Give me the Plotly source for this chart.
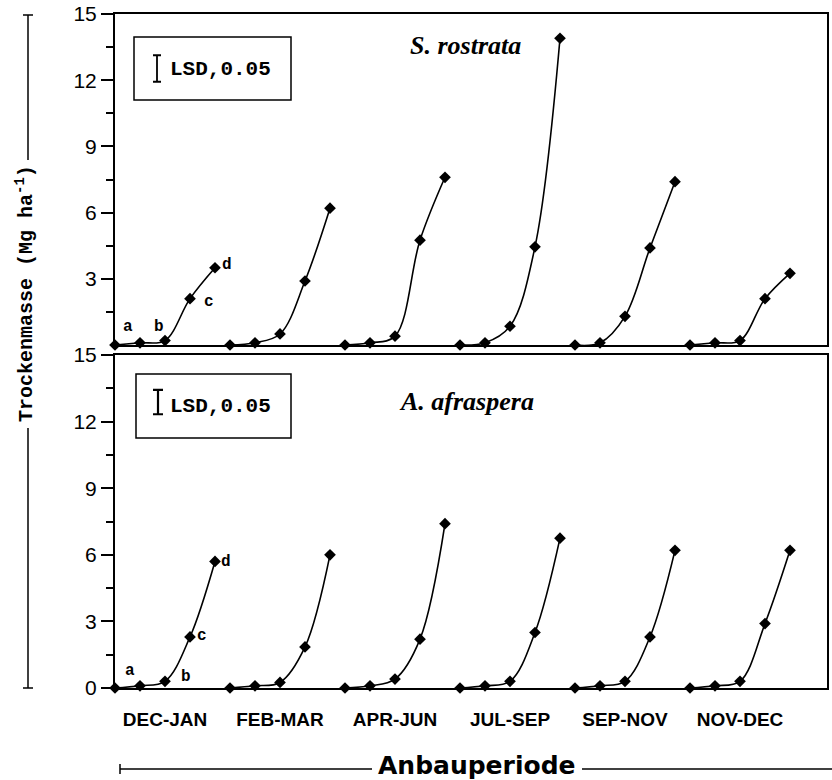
import plotly.graph_objects as go

# ---------------- data ----------------
periods = ["DEC-JAN", "FEB-MAR", "APR-JUN", "JUL-SEP", "SEP-NOV", "NOV-DEC"]
stages = [0, 1, 2, 3, 4]          # sowing, a, b, c, d (harvest stage index)
stage_letters = ["a", "b", "c", "d"]
period_gap = 4.6                  # spacing between cropping periods (stage units)

# Dry matter (Mg ha-1), S. rostrata
rostrata_dec_jan = [0, 0.1, 0.2, 2.1, 3.5]
rostrata_feb_mar = [0, 0.1, 0.5, 2.9, 6.2]
rostrata_apr_jun = [0, 0.1, 0.4, 4.75, 7.6]
rostrata_jul_sep = [0, 0.1, 0.85, 4.45, 13.9]
rostrata_sep_nov = [0, 0.1, 1.3, 4.4, 7.4]
rostrata_nov_dec = [0, 0.1, 0.2, 2.1, 3.25]

# Dry matter (Mg ha-1), A. afraspera
afraspera_dec_jan = [0, 0.1, 0.3, 2.3, 5.7]
afraspera_feb_mar = [0, 0.1, 0.25, 1.85, 6.0]
afraspera_apr_jun = [0, 0.1, 0.4, 2.2, 7.4]
afraspera_jul_sep = [0, 0.1, 0.3, 2.5, 6.75]
afraspera_sep_nov = [0, 0.1, 0.3, 2.3, 6.2]
afraspera_nov_dec = [0, 0.1, 0.3, 2.9, 6.2]

lsd_rostrata = 1.2
lsd_afraspera = 1.1

y_ticks_top = [3, 6, 9, 12, 15]
y_ticks_bottom = [0, 3, 6, 9, 12, 15]
y_minor = [1.5, 4.5, 7.5, 10.5, 13.5]

rostrata = [rostrata_dec_jan, rostrata_feb_mar, rostrata_apr_jun,
            rostrata_jul_sep, rostrata_sep_nov, rostrata_nov_dec]
afraspera = [afraspera_dec_jan, afraspera_feb_mar, afraspera_apr_jun,
             afraspera_jul_sep, afraspera_sep_nov, afraspera_nov_dec]

# ---------------- layout geometry ----------------
W, H = 832, 780
ML, MR, MT, MB = 115, 5, 14, 92
X_MAX = 28.48

REF_L, REF_R, REF_T, REF_B = 115, 827, 14, 688   # plot area in reference pixels


def px(xr):
    return (xr - REF_L) / (REF_R - REF_L)


def py(yr):
    return (REF_B - yr) / (REF_B - REF_T)


TOP_DOM = [py(345), 1.0]
BOT_DOM = [0.0, py(355)]

MONO = "Liberation Mono"
SANS = "Liberation Sans"

fig = go.Figure()

for axes, data in ((("x", "y"), rostrata), (("x2", "y2"), afraspera)):
    for g, vals in enumerate(data):
        xs = [g * period_gap + s for s in stages]
        fig.add_trace(go.Scatter(
            x=xs, y=vals, xaxis=axes[0], yaxis=axes[1],
            mode="lines+markers",
            line=dict(color="black", width=1.6, shape="spline", smoothing=1.0),
            marker=dict(symbol="diamond", size=9, color="black"),
            cliponaxis=False, showlegend=False, hoverinfo="skip"))

# LSD bars
fig.add_trace(go.Scatter(
    x=[1.68], y=[12.53], xaxis="x", yaxis="y", mode="markers",
    marker=dict(color="rgba(0,0,0,0)", size=2),
    error_y=dict(type="data", array=[lsd_rostrata / 2], color="black",
                 thickness=1.8, width=4),
    showlegend=False, hoverinfo="skip"))
fig.add_trace(go.Scatter(
    x=[1.72], y=[12.88], xaxis="x2", yaxis="y2", mode="markers",
    marker=dict(color="rgba(0,0,0,0)", size=2),
    error_y=dict(type="data", array=[lsd_afraspera / 2], color="black",
                 thickness=2.2, width=5),
    showlegend=False, hoverinfo="skip"))

centers = [g * period_gap + (stages[0] + stages[-1]) / 2 for g in range(len(periods))]

axis_common = dict(showline=True, linewidth=2, linecolor="black", mirror=True,
                   showgrid=False, zeroline=False, automargin=False,
                   ticklabeloverflow="allow")

fig.update_layout(
    width=W, height=H,
    margin=dict(l=ML, r=MR, t=MT, b=MB, autoexpand=False),
    paper_bgcolor="white", plot_bgcolor="white",
    showlegend=False,
    xaxis=dict(domain=[0, 1], anchor="y", range=[0, X_MAX],
               showticklabels=False, ticks="", **axis_common),
    xaxis2=dict(domain=[0, 1], anchor="y2", range=[0, X_MAX], matches="x",
                tickmode="array", tickvals=centers, ticktext=periods,
                ticks="outside", ticklen=13, tickcolor="rgba(0,0,0,0)",
                tickfont=dict(family=SANS, size=19, color="black", weight="bold"),
                **axis_common),
    yaxis=dict(domain=TOP_DOM, anchor="x", range=[0, 15],
               tickmode="array", tickvals=y_ticks_top,
               ticks="outside", ticklen=12, tickwidth=2, tickcolor="black",
               minor=dict(tickmode="array", tickvals=y_minor, ticks="outside",
                          ticklen=7, tickwidth=2, tickcolor="black"),
               tickfont=dict(family=SANS, size=21, color="black"),
               **axis_common),
    yaxis2=dict(domain=BOT_DOM, anchor="x2", range=[0, 15],
                tickmode="array", tickvals=y_ticks_bottom,
                ticks="outside", ticklen=12, tickwidth=2, tickcolor="black",
                minor=dict(tickmode="array", tickvals=y_minor, ticks="outside",
                           ticklen=7, tickwidth=2, tickcolor="black"),
                tickfont=dict(family=SANS, size=21, color="black"),
                **axis_common),
)

shapes = []
annotations = []


def ann(text, x, y, size, family, weight="normal", xref="paper", yref="paper",
        xanchor="center", angle=0):
    annotations.append(dict(text=text, xref=xref, yref=yref, x=x, y=y,
                            xanchor=xanchor, yanchor="middle", textangle=angle,
                            showarrow=False,
                            font=dict(family=family, size=size, color="black", weight=weight)))


def line(x0, y0, x1, y1, w=1.5):
    shapes.append(dict(type="line", xref="paper", yref="paper",
                       x0=px(x0), x1=px(x1), y0=py(y0), y1=py(y1),
                       line=dict(color="black", width=w)))


# LSD boxes and labels
for (x0, x1, y0, y1, ty) in ((134, 291, 37, 100, 69), (136, 291, 374, 438, 406)):
    shapes.append(dict(type="rect", xref="paper", yref="paper",
                       x0=px(x0), x1=px(x1), y0=py(y1), y1=py(y0),
                       line=dict(color="black", width=1.5)))
    ann("LSD,0.05", px(168), py(ty), 21, MONO, "bold", xanchor="left")

# species labels
ann("<b><i>S. rostrata</i></b>", px(465), py(46), 26, "Liberation Serif")
ann("<b><i>A. afraspera</i></b>", px(466), py(401), 26, "Liberation Serif")

# stage letters (first period)
letter_pos_top = [(0.52, 0.82), (1.76, 0.82), (3.76, 1.95), (4.48, 3.62)]
letter_pos_bot = [(0.6, 0.77), (2.84, 0.5), (3.48, 2.34), (4.44, 5.68)]
for (lx, ly), t in zip(letter_pos_top, stage_letters):
    ann(t, lx, ly, 16, MONO, "bold", xref="x", yref="y")
for (lx, ly), t in zip(letter_pos_bot, stage_letters):
    ann(t, lx, ly, 16, MONO, "bold", xref="x2", yref="y2")

# y axis title with lines
ann("Trockenmasse (Mg ha<sup>-1</sup>)", px(25), py(294), 20, MONO, "bold", angle=-90)
line(28, 15, 28, 160)
line(23, 15, 33, 15)
line(28, 428, 28, 688)
line(23, 688, 33, 688)

# x axis title with lines
ann("Anbauperiode", px(477), py(766), 25, "DejaVu Sans", "bold")
line(120, 769, 372, 769)
line(120, 764, 120, 774)
line(582, 769, 832, 769)

fig.update_layout(shapes=shapes, annotations=annotations)
fig.write_html("out.html",
               config={"displayModeBar": False},
               post_script="document.body.style.margin='0px';")
